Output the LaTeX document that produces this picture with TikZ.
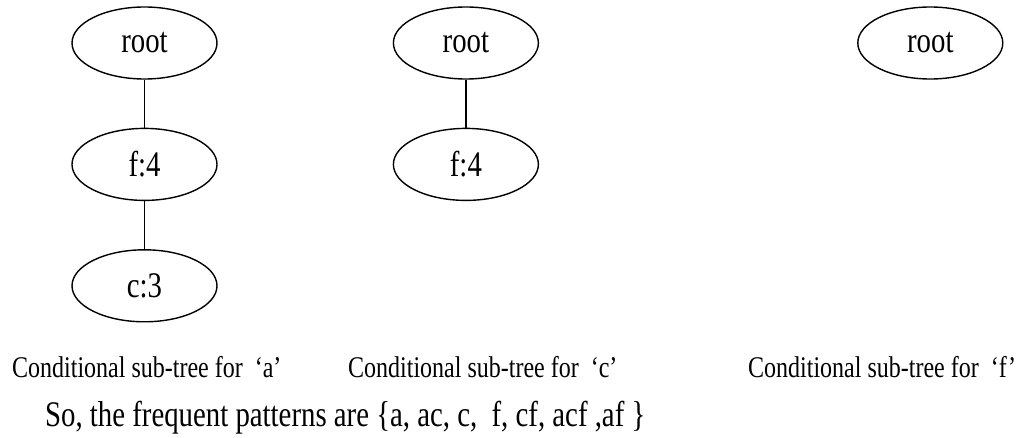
\documentclass[tikz,border=0pt]{standalone}
\usepackage{fontspec}
\setmainfont{Liberation Serif}[FakeStretch=0.8]
\usepackage{tikz}
\usetikzlibrary{positioning,shapes.geometric}

\tikzset{
  item/.style={draw,ellipse,line width=1.4pt,minimum width=145pt,minimum height=72pt,inner sep=0pt,font=\fontsize{36}{40}\selectfont},
  link/.style={line width=1.4pt},
  caption/.style={anchor=base west,inner sep=0pt,font=\fontsize{30}{34}\selectfont},
  summary/.style={anchor=base west,inner sep=0pt,font=\fontsize{36}{40}\selectfont}
}

\begin{document}
\begin{tikzpicture}[node distance=48pt and 175pt]
\useasboundingbox (0,0) rectangle (1020pt,-438pt);
% sub-tree for a
\node[item] (ra) at (144.5pt,-43pt) {root};
\node[item,below=of ra] (fa) {f:4};
\node[item,below=of fa] (ca) {c:3};
\draw[link] (ra) -- (fa);
\draw[link] (fa) -- (ca);
% sub-tree for c
\node[item,right=of ra] (rc) {root};
\node[item,below=of rc] (fc) {f:4};
\draw[link] (rc) -- (fc);
% sub-tree for f
\node[item,right=318pt of rc] (rf) {root};
% captions
\node[caption] (capa) at (12pt,-377pt) {Conditional sub-tree for\ \ `a'};
\node[caption] (capc) at (348pt,-377pt) {Conditional sub-tree for\ \ `c'};
\node[caption] (capf) at (748pt,-377pt) {Conditional sub-tree for\ \ `f'};
\node[summary] (sum) at (45pt,-426pt) {So, the frequent patterns are \{a, ac, c,\ \ f, cf, acf ,af~\}};
\end{tikzpicture}
\end{document}
